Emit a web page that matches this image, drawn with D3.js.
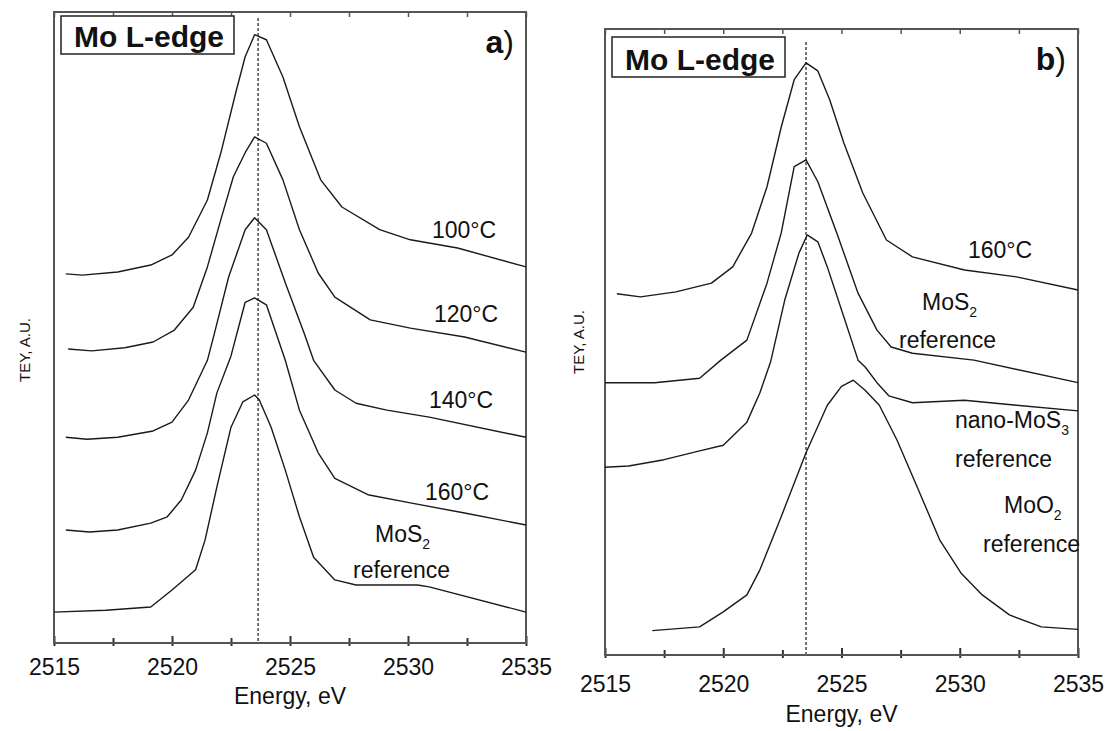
<!DOCTYPE html>
<html>
<head>
<meta charset="utf-8">
<script src="https://cdn.jsdelivr.net/npm/d3@7"></script>
<style>
  body { margin: 0; background: #fff; }
  text { font-family: Arial, "Liberation Sans", sans-serif; fill: #111; }
</style>
</head>
<body>
<svg id="chart" width="1112" height="731"></svg>
<script>
// axes
var energyRange = [2515, 2535];
var teyRange = [0, 10];
var majorTicks = [2515, 2520, 2525, 2530, 2535];
var minorTicks = [2517.5, 2522.5, 2527.5, 2532.5];

// panel a : [energy eV, TEY a.u.]
var a100 = [[2515.5,5.85],[2516.2,5.83],[2517.7,5.88],[2519.1,5.99],[2520.0,6.15],[2520.7,6.43],[2521.5,7.02],[2522.1,7.81],[2522.7,8.72],[2523.1,9.29],[2523.5,9.64],[2524.0,9.56],[2524.7,8.97],[2525.4,8.18],[2526.3,7.34],[2527.2,6.91],[2528.8,6.55],[2530.1,6.39],[2532.1,6.26],[2535.0,5.96]];
var a120 = [[2515.6,4.66],[2516.6,4.63],[2518.0,4.68],[2519.2,4.77],[2520.1,4.96],[2520.9,5.32],[2521.5,5.96],[2522.1,6.75],[2522.6,7.39],[2523.1,7.77],[2523.5,8.02],[2524.0,7.92],[2524.7,7.34],[2525.4,6.55],[2526.2,5.86],[2526.9,5.48],[2528.4,5.12],[2530.1,4.99],[2532.4,4.85],[2535.0,4.61]];
var a140 = [[2515.5,3.26],[2516.4,3.23],[2517.7,3.26],[2519.2,3.36],[2520.0,3.50],[2520.7,3.85],[2521.5,4.48],[2521.8,4.91],[2522.4,5.80],[2523.1,6.55],[2523.5,6.74],[2524.0,6.55],[2524.8,5.71],[2525.6,4.91],[2526.0,4.48],[2526.9,4.01],[2527.8,3.80],[2529.1,3.69],[2530.9,3.58],[2535.0,3.26]];
var a160 = [[2515.5,1.79],[2516.5,1.76],[2517.7,1.79],[2519.1,1.90],[2519.8,2.00],[2520.4,2.27],[2521.0,2.74],[2521.5,3.33],[2521.9,3.96],[2522.5,4.55],[2523.1,5.40],[2523.5,5.47],[2524.0,5.36],[2524.8,4.48],[2525.4,3.69],[2526.2,3.01],[2526.9,2.61],[2528.3,2.35],[2530.1,2.22],[2532.4,2.06],[2535.0,1.87]];
var aMoS2 = [[2515.0,0.49],[2517.2,0.52],[2519.1,0.57],[2520.0,0.84],[2521.0,1.16],[2521.4,1.63],[2521.9,2.47],[2522.5,3.42],[2523.0,3.82],[2523.5,3.93],[2523.7,3.85],[2524.2,3.42],[2524.8,2.74],[2525.4,2.00],[2526.0,1.36],[2526.9,1.00],[2527.8,0.92],[2530.4,0.92],[2530.9,0.89],[2535.0,0.49]];

// panel b
var b160 = [[2515.5,5.77],[2516.5,5.72],[2518.0,5.80],[2519.5,5.94],[2520.4,6.20],[2521.2,6.74],[2521.85,7.48],[2522.45,8.43],[2523.0,9.19],[2523.5,9.46],[2524.0,9.33],[2524.5,8.87],[2525.1,8.18],[2525.9,7.38],[2526.9,6.63],[2528.0,6.36],[2530.2,6.15],[2532.4,6.04],[2535.0,5.83]];
var bMoS2 = [[2515.0,4.35],[2517.1,4.35],[2519.0,4.42],[2519.9,4.71],[2521.0,5.03],[2521.85,5.94],[2522.45,6.74],[2523.0,7.80],[2523.5,7.91],[2524.0,7.56],[2524.8,6.74],[2525.7,5.78],[2526.5,5.19],[2527.1,4.92],[2528.0,4.82],[2530.6,4.71],[2535.0,4.35]];
var bMoS3 = [[2515.0,3.00],[2516.0,3.02],[2517.5,3.12],[2519.0,3.26],[2520.0,3.35],[2521.0,3.72],[2521.55,4.19],[2522.0,4.68],[2522.6,5.67],[2523.2,6.42],[2523.55,6.71],[2524.0,6.60],[2524.4,6.20],[2525.1,5.40],[2525.7,4.71],[2526.0,4.60],[2526.5,4.35],[2527.0,4.14],[2528.0,4.03],[2530.2,4.07],[2532.4,3.99],[2535.0,3.90]];
var bMoO2 = [[2517.0,0.39],[2519.0,0.45],[2520.0,0.69],[2521.0,0.96],[2521.55,1.36],[2522.45,2.21],[2523.5,3.23],[2524.4,3.99],[2525.0,4.29],[2525.5,4.39],[2526.0,4.23],[2526.6,3.99],[2527.35,3.43],[2528.25,2.64],[2529.15,1.84],[2530.05,1.31],[2530.95,0.96],[2532.1,0.64],[2533.45,0.45],[2535.0,0.41]];

var peakA = 2523.65;
var peakB = 2523.5;

var svg = d3.select("#chart");

function addLabel (g, xp, yp, txt, sub) {
  var t = g.append("text")
    .attr("x", xp)
    .attr("y", yp)
    .attr("font-size", "23px")
    .text(txt);
  if (sub) {
    t.append("tspan").attr("font-size", "14px").attr("dy", 7).text(sub);
  }
}

function drawPanel (box, spectra, peak, tag) {
  var x = d3.scaleLinear().domain(energyRange).range([box.left, box.right]);
  var y = d3.scaleLinear().domain(teyRange).range([box.bottom, box.top]);
  var g = svg.append("g");

  // bottom axis, ticks going inside and a little outside
  var axB = g.append("g")
    .attr("transform", "translate(0," + box.bottom + ")")
    .call(d3.axisBottom(x).tickValues(majorTicks).tickSize(-7).tickSizeOuter(0).tickFormat(d3.format("d")));
  axB.select(".domain").remove();
  axB.attr("font-size", 23).attr("font-family", "Arial, 'Liberation Sans', sans-serif");
  axB.selectAll(".tick line").attr("y1", 3).attr("stroke", "#333").attr("stroke-width", 2);
  axB.selectAll(".tick text").attr("y", box.tickText - box.bottom).attr("dy", 0).attr("fill", "#111");

  var axBm = g.append("g")
    .attr("transform", "translate(0," + box.bottom + ")")
    .call(d3.axisBottom(x).tickValues(minorTicks).tickSize(-5).tickSizeOuter(0).tickFormat(""));
  axBm.select(".domain").remove();
  axBm.selectAll(".tick line").attr("y1", 3).attr("stroke", "#333").attr("stroke-width", 2);

  // top axis ticks
  var axT = g.append("g")
    .attr("transform", "translate(0," + box.top + ")")
    .call(d3.axisTop(x).tickValues(majorTicks.concat(minorTicks)).tickSize(-5).tickSizeOuter(0).tickFormat(""));
  axT.select(".domain").remove();
  axT.selectAll(".tick line").attr("stroke", "#555").attr("stroke-width", 1.5);

  // frame
  g.append("rect")
    .attr("x", box.left)
    .attr("y", box.top)
    .attr("width", box.right - box.left)
    .attr("height", box.bottom - box.top)
    .attr("fill", "none")
    .attr("stroke", "#555")
    .attr("stroke-width", 2);

  // dashed peak position
  g.append("line")
    .attr("x1", x(peak))
    .attr("x2", x(peak))
    .attr("y1", box.dashTop)
    .attr("y2", box.bottom)
    .attr("stroke", "#666")
    .attr("stroke-width", 1.8)
    .attr("stroke-dasharray", "3,2");

  var line = d3.line()
    .x(function (d) { return x(d[0]); })
    .y(function (d) { return y(d[1]); });

  g.selectAll("path.spec")
    .data(spectra)
    .enter().append("path")
    .attr("class", "spec")
    .attr("d", line)
    .attr("fill", "none")
    .attr("stroke", "#1a1a1a")
    .attr("stroke-width", 1.4)
    .attr("stroke-linejoin", "round");

  // Mo L-edge box
  g.append("rect")
    .attr("x", box.left + 7)
    .attr("y", box.top + box.boxDy)
    .attr("width", 173)
    .attr("height", box.boxH)
    .attr("fill", "#fff")
    .attr("stroke", "#222")
    .attr("stroke-width", 1.5);
  g.append("text")
    .attr("x", box.left + 20)
    .attr("y", box.top + box.boxDy + box.boxH - 7)
    .attr("font-size", "30px")
    .attr("font-weight", "bold")
    .text("Mo L-edge");

  // panel tag
  var tg = g.append("text")
    .attr("x", box.right - 12)
    .attr("y", box.tagY)
    .attr("text-anchor", "end")
    .attr("font-size", "32px");
  tg.append("tspan").attr("font-weight", "bold").text(tag);
  tg.append("tspan").attr("font-weight", "normal").text(")");

  // axis titles
  g.append("text")
    .attr("x", (box.left + box.right) / 2)
    .attr("y", box.titleY)
    .attr("text-anchor", "middle")
    .attr("font-size", "23px")
    .text("Energy, eV");
  g.append("text")
    .attr("transform", "translate(" + box.yTitleX + "," + box.yTitleY + ") rotate(-90)")
    .attr("text-anchor", "middle")
    .attr("font-size", "15px")
    .text("TEY, A.U.");

  return {g: g, x: x, y: y};
}

var pa = drawPanel({left: 54, right: 526, top: 12, bottom: 643, tickText: 675, titleY: 704,
  dashTop: 18, boxDy: 4, boxH: 38, tagY: 53, yTitleX: 30, yTitleY: 350},
  [a100, a120, a140, a160, aMoS2], peakA, "a");

var deg = "\u00B0";
addLabel(pa.g, 432, 238, "100" + deg + "C");
addLabel(pa.g, 434, 322, "120" + deg + "C");
addLabel(pa.g, 429, 408, "140" + deg + "C");
addLabel(pa.g, 425, 500, "160" + deg + "C");
addLabel(pa.g, 375, 542, "MoS", "2");
addLabel(pa.g, 353, 578, "reference");

var pb = drawPanel({left: 605, right: 1078, top: 29, bottom: 655, tickText: 692, titleY: 722,
  dashTop: 42, boxDy: 8, boxH: 40, tagY: 70, yTitleX: 584, yTitleY: 342},
  [b160, bMoS2, bMoS3, bMoO2], peakB, "b");

addLabel(pb.g, 968, 258, "160" + deg + "C");
addLabel(pb.g, 922, 310, "MoS", "2");
addLabel(pb.g, 899, 348, "reference");
addLabel(pb.g, 955, 428, "nano-MoS", "3");
addLabel(pb.g, 955, 467, "reference");
addLabel(pb.g, 1004, 513, "MoO", "2");
addLabel(pb.g, 983, 552, "reference");
</script>
</body>
</html>
